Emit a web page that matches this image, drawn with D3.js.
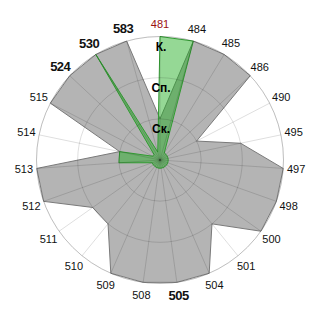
<!DOCTYPE html>
<html>
<head>
<meta charset="utf-8">
<script src="https://cdn.jsdelivr.net/npm/d3@7"></script>
<style>
  body { margin: 0; background: #fff; }
  text { font-family: "Liberation Sans", Arial, sans-serif; }
</style>
</head>
<body>
<svg id="chart"></svg>
<script>
const w = 320,
  h = 320,
  cx = 160,
  cy = 160,
  outerR = 123.5;

// categories round the circle, clockwise from the top
const categories = ["481", "484", "485", "486", "490", "495", "497", "498", "500", "501", "504", "505",
  "508", "509", "510", "511", "512", "513", "514", "515", "524", "530", "583"];
// grey series
const greyValues = [1, 3, 3, 3, 1, 2, 3, 3, 3, 2, 3, 3, 3, 3, 2, 2, 3, 3, 1, 3, 3, 3, 3];
// green series
const greenValues = [3, 3, 0.2, 0.2, 0.2, 0.2, 0.2, 0.2, 0.2, 0.2, 0.2, 0.2,
  0.2, 0.2, 0.2, 0.2, 0.2, 1, 1, 0.2, 0.2, 3, 0.2];
// radial level labels
const levels = [1, 2, 3];
const levelLabels = ["Ск.", "Сп.", "К."];
// labels drawn bold / coloured
const boldLabels = ["583", "530", "524", "505"];
const redLabels = ["481"];

const svg = d3.select("#chart")
  .attr("width", w)
  .attr("height", h);

const g = svg.append("g").attr("transform", `translate(${cx},${cy})`);

// scales
const angle = d3.scaleBand()
  .domain(categories)
  .range([0, 2 * Math.PI])
  .align(0);

const r = d3.scaleLinear()
  .domain([0, 3])
  .range([0, outerR]);

const a = d => angle(d);

const radar = d3.lineRadial()
  .curve(d3.curveLinearClosed)
  .angle(d => a(d.cat))
  .radius(d => r(d.v));

const greyData = categories.map((c, i) => ({cat: c, v: greyValues[i]}));
const greenData = categories.map((c, i) => ({cat: c, v: greenValues[i]}));

// outer circle (white background line)
g.append("circle")
  .attr("r", r(3))
  .attr("fill", "none")
  .attr("stroke", "#dcdcdc");

// grey area
g.append("path")
  .datum(greyData)
  .attr("d", radar)
  .attr("fill", "#b4b4b4")
  .attr("stroke", "#7a7a7a")
  .attr("stroke-width", 1);

// green area
g.append("path")
  .datum(greenData)
  .attr("d", radar)
  .attr("fill", "rgb(30,172,30)")
  .attr("fill-opacity", 0.47)
  .attr("stroke", "rgb(50,155,50)")
  .attr("stroke-width", 1);

// grid on top
const grid = g.append("g")
  .attr("fill", "none")
  .attr("stroke", "rgba(0,0,0,0.13)");

grid.selectAll("circle")
  .data(levels)
  .enter()
  .append("circle")
    .attr("r", d => r(d));

grid.selectAll("line")
  .data(categories)
  .enter()
  .append("line")
    .attr("x1", 0)
    .attr("y1", 0)
    .attr("x2", d => r(3) * Math.sin(a(d)))
    .attr("y2", d => -r(3) * Math.cos(a(d)));

// category labels
const labelR = 136.5;
g.selectAll("text.cat")
  .data(categories)
  .enter()
  .append("text")
    .attr("class", "cat")
    .attr("x", d => labelR * Math.sin(a(d)))
    .attr("y", d => -labelR * Math.cos(a(d)))
    .attr("text-anchor", "middle")
    .attr("dominant-baseline", "central")
    .attr("font-size", d => boldLabels.includes(d) ? 13 : 11)
    .attr("font-weight", d => boldLabels.includes(d) ? "bold" : "normal")
    .attr("letter-spacing", d => boldLabels.includes(d) ? -0.5 : 0)
    .attr("fill", d => redLabels.includes(d) ? "#9b1010" : "#111")
    .text(d => d);

// level labels
g.selectAll("text.lvl")
  .data(levels)
  .enter()
  .append("text")
    .attr("class", "lvl")
    .attr("x", 1)
    .attr("y", d => -r(d) + 10)
    .attr("text-anchor", "middle")
    .attr("dominant-baseline", "central")
    .attr("font-size", 12)
    .attr("font-weight", "bold")
    .attr("fill", "#000")
    .text((d, i) => levelLabels[i]);
</script>
</body>
</html>
